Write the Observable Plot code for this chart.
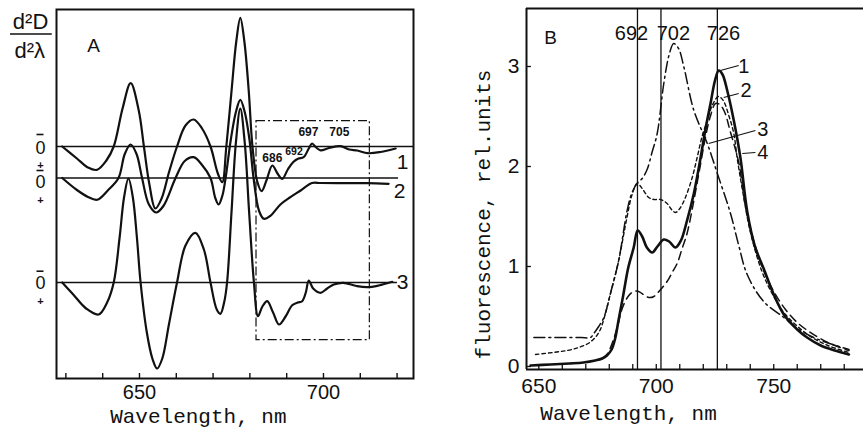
<!DOCTYPE html>
<html><head><meta charset="utf-8">
<script src="https://cdn.jsdelivr.net/npm/d3@7"></script>
<script src="https://cdn.jsdelivr.net/npm/@observablehq/plot@0.6"></script>
<style>
html,body{margin:0;padding:0;background:#fff;}
#wrap{display:flex;width:863px;height:428px;overflow:hidden;background:#fff;}
#wrap svg{flex:none;}
</style></head><body><div id="wrap"></div>
<script>
// ---------- Panel A: second-derivative spectra (values relative to each curve's own zero line; + is downward) ----------
const aNm1 = [629.0,633,636,638.5,641,643,645.4,647.6,649.8,651.2,652.7,654.3,656,658,660.2,662.5,664.7,667,669.3,671.3,672.5,673.6,675,676.3,677.4,678.5,679.7,680.7,682,683.2,684.5,686.1,687.5,688.8,690.3,691.8,693.2,694.6,696.0,696.9,698,699.2,701.5,704.6,707,709.2,712.0,715.5,719.6];
const aVal1 = [0,1.2,2.1,2.33,1.4,0,-3.8,-6.33,-3.6,0,3.8,6.2,5.2,2.6,0,-2.1,-2.7,-1.8,0,2.7,3.57,0,-5.5,-10.5,-12.87,-10.5,-5.5,0,3.5,4.47,3.4,1.9,2.7,3.23,2.3,1.55,1.2,1.07,0.2,-0.3,0.1,0.38,0.15,-0.03,0.3,0.4,0.67,0.55,0.2];
const aNm2 = [629.0,633,636,638.5,641.5,644.3,646,647.6,649.2,650.7,652.5,654.5,656.5,659.8,662.3,664.7,667,669.3,670.6,671.5,672.5,673.4,674.8,676.2,677.4,678.6,679.9,681,682.5,683.8,685.5,688.3,691,693.8,696.9,699.2,704.6,711.9,717.7];
const aVal2 = [0,1.2,1.9,2.18,1.2,0,-2.4,-3.35,-2.4,0,2.6,3.45,2.8,0,-1.7,-2.08,-1.3,0,2.0,2.65,1.8,0,-3.8,-6.6,-7.82,-6.6,-3.8,0,3.3,4.08,3.8,2.65,1.92,1.25,0.5,0.5,0.52,0.52,0.58];
const aNm3 = [629.0,632,635.5,638.9,641.2,643.0,644.6,645.8,647.0,648.2,649.3,650.3,652,653.5,654.8,656.2,658,660.2,662.5,665.2,667.5,669.3,671,672,673,673.8,675,676.2,677.4,678.6,679.8,681.1,682.2,683.4,684.7,686.3,687.9,689.7,691.5,693,694.2,695.2,696.0,697.2,699.2,701,702.8,705.4,709,711.9,715,718.7];
const aVal3 = [0,1.2,2.6,3.2,2.0,0,-4.5,-8.5,-10.4,-8.5,-4.5,0,5.0,7.6,8.6,7.6,4.2,0,-3.7,-4.97,-3.3,0,2.7,3.13,2.0,0,-7.0,-14.0,-17.4,-14.0,-7.0,0,3.37,2.4,1.87,3.0,4.2,3.4,2.27,2.0,1.87,1.0,-0.2,0.6,1.03,0.6,0.2,0.03,0.35,0.47,0.3,-0.07];
const aCurveNames = ["1","2","3"];
const aTickLabels = [650,700];
const aPeakLabels = ["686","692","697","705"];

// ---------- Panel B: fluorescence spectra ----------
const bNm1 = [646.5,655,663,669,674,677,679,681,682.5,684,686,688,690.4,692.1,694,696,698.3,700.5,703.2,705.5,708.2,710.5,713.1,716,718.8,721,723.1,725,726.6,728.2,730.2,733,735.8,738.7,742,745.7,750,754.3,760,764.2,770,776,782];
const bVal1 = [0.01,0.02,0.03,0.04,0.06,0.08,0.11,0.17,0.28,0.47,0.72,0.98,1.19,1.36,1.3,1.19,1.14,1.2,1.27,1.25,1.19,1.26,1.46,1.73,2.08,2.38,2.63,2.86,2.96,2.92,2.76,2.46,2.09,1.55,1.2,0.98,0.72,0.52,0.37,0.29,0.21,0.16,0.12];
const bNm2 = [648.6,656,662,667,671,674,676,678,680.5,684,687.6,689.7,691.9,694,696.8,699,701.8,704.6,706.5,708.2,710,712.4,715.3,717.4,719.5,721.7,724,726.5,728.5,731,733,734.4,736.5,740,745,750,755,765,773,782];
const bVal2 = [0.12,0.14,0.16,0.19,0.23,0.29,0.36,0.5,0.73,1.06,1.5,1.72,1.83,1.78,1.69,1.67,1.67,1.63,1.57,1.54,1.58,1.69,1.89,2.09,2.3,2.46,2.62,2.7,2.66,2.5,2.33,2.09,1.79,1.35,0.95,0.7,0.52,0.31,0.21,0.14];
const bNm3 = [647.9,660,668,672,673.4,675.5,677.7,680.5,684,687.6,689.7,692.1,694,696.1,698.3,700.4,703.2,705.5,707.4,709.5,711.7,716,721.7,726,731.6,735,738.7,745.7,754.3,760,767,775,782];
const bVal3 = [0.29,0.29,0.29,0.29,0.33,0.4,0.49,0.73,1.06,1.56,1.74,1.84,1.88,1.97,2.15,2.33,2.83,3.12,3.23,3.18,3.0,2.56,2.23,1.93,1.53,1.22,0.92,0.65,0.49,0.38,0.29,0.22,0.17];
const bNm4 = [677,679,681.5,683.5,685.5,688,690.4,692.5,694.5,696.8,699,701.5,704.6,707,708.9,711,713.1,716,718.5,721,723,725.2,727,729,731.5,735,738,741,745,750,755,760,765,773,782];
const bVal4 = [0.08,0.12,0.25,0.4,0.58,0.7,0.75,0.75,0.72,0.69,0.7,0.76,0.85,0.95,1.03,1.18,1.33,1.66,1.98,2.3,2.5,2.63,2.62,2.55,2.35,2.05,1.6,1.3,1.0,0.75,0.57,0.44,0.35,0.24,0.16];
const bLines = [692,702,726];
const bTickLabels = [650,700,750];
const bYTickLabels = [0,1,2,3];
const bCurveNames = ["1","2","3","4"];

const SANS = "Liberation Sans, Arial, sans-serif";
const MONO = "Liberation Mono, Courier New, monospace";
const INK = "#111";

// ---------- build panel A ----------
const aOff = [0, 3.15, 13.6];
const aX0 = 627.45, aX1 = 724.46, aYb = 23.2, aYt = -13.7;
const toPts = (xs, ys, off=0) => xs.map((x,i)=>({x, y: ys[i] + off}));
const aSeries = [toPts(aNm1,aVal1,aOff[0]), toPts(aNm2,aVal2,aOff[1]), toPts(aNm3,aVal3,aOff[2])];
const aBaseEnd = [aX1, 720.4, 720.1];

const marksA = [
  Plot.frame({stroke: INK, strokeWidth: 2}),
  Plot.ruleY(aOff, {y: d=>d, x1: aX0, x2: (d,i)=>aBaseEnd[i], stroke: INK, strokeWidth: 1.4}),
  Plot.rect([0], {x1: 681.8, x2: 712.6, y1: -2.53, y2: 19.37, fill: "none", stroke: INK, strokeWidth: 1.2, strokeDasharray: "9,3,2,3"}),
  ...aSeries.map(s => Plot.line(s, {x: "x", y: "y", curve: "catmull-rom", stroke: INK, strokeWidth: 2.2})),
  Plot.ruleX(d3.range(630, 721, 10), {x: d=>d, y1: aYb, y2: aYb - 0.5, stroke: INK, strokeWidth: 1.4}),
  Plot.text(aTickLabels, {x: d=>d, y: 24.6, text: d=>String(d), fontSize: 20, fontFamily: SANS, fill: INK}),
  Plot.text(["Wavelength, nm"], {x: 666.0, y: 26.95, text: d=>d, fontSize: 21, fontFamily: MONO, fill: INK}),
  Plot.text(["A"], {x: 637.5, y: -10.1, text: d=>d, fontSize: 19, fontFamily: SANS, fill: INK}),
  Plot.text(["d²D"], {x: 620.4, y: -12.5, text: d=>d, fontSize: 22, fontFamily: SANS, fill: INK}),
  Plot.text(["d²λ"], {x: 620.2, y: -9.6, text: d=>d, fontSize: 22, fontFamily: SANS, fill: INK}),
  Plot.ruleY([-11.25], {x1: 614.95, x2: 626.3, stroke: INK, strokeWidth: 1.5}),
  // sign marks beside each zero line: overbar (minus) above the 0, plus below
  Plot.ruleY([-1.2, 2.4, 12.47], {y: d=>d, x1: 622.15, x2: 624.05, stroke: INK, strokeWidth: 1.6}),
  Plot.text([0.2, 3.55, 13.65], {x: 623.1, y: d=>d, text: ()=>"0", fontSize: 18, fontFamily: SANS, fill: INK}),
  Plot.text([1.85, 5.35, 15.5], {x: 623.1, y: d=>d, text: ()=>"+", fontSize: 11, fontWeight: "bold", fontFamily: SANS, fill: INK}),
  // curve numbers
  Plot.text(aCurveNames, {x: [721.5, 720.65, 721.5], y: [1.57, 4.5, 13.6], text: d=>d, fontSize: 21, fontFamily: SANS, fill: INK}),
  // peak wavelengths inside the box
  Plot.text(aPeakLabels, {x: [686.1, 692.0, 695.9, 704.3], y: [1.2, 0.55, -1.4, -1.4], text: d=>d, fontSize: [12, 10.5, 12, 12], fontWeight: "bold", fontFamily: SANS, fill: INK})
];

const plotA = Plot.plot({
  width: 432, height: 428,
  marginTop: 9, marginLeft: 56, marginRight: 19, marginBottom: 50,
  x: {domain: [aX0, aX1], axis: null},
  y: {domain: [aYb, aYt], axis: null},
  style: {background: "white", fontFamily: SANS, overflow: "visible"},
  marks: marksA
});

// ---------- build panel B ----------
const bX0 = 644.77, bX1 = 788.2, bY0 = -0.03, bY1 = 3.58;
const bSeries = [toPts(bNm1,bVal1), toPts(bNm2,bVal2), toPts(bNm3,bVal3), toPts(bNm4,bVal4)];
const bStyles = [
  {strokeWidth: 2.6, strokeDasharray: null},
  {strokeWidth: 1.4, strokeDasharray: "3.5,3"},
  {strokeWidth: 1.5, strokeDasharray: "11,4,2,4"},
  {strokeWidth: 1.5, strokeDasharray: "8,5"}
];
const leaders = [
  {x1: 727.3, y1: 2.96, x2: 735.1, y2: 3.01},
  {x1: 728.7, y1: 2.69, x2: 735.1, y2: 2.73},
  {x1: 722.3, y1: 2.23, x2: 742.2, y2: 2.36},
  {x1: 736.6, y1: 2.13, x2: 742.2, y2: 2.14}
];

const marksB = [
  Plot.ruleY([bY1, bY0], {y: d=>d, x1: bX0, x2: bX1, stroke: INK, strokeWidth: 2}),
  Plot.ruleX([bX0], {x: d=>d, y1: bY0, y2: bY1, stroke: INK, strokeWidth: 2}),
  Plot.ruleX(bLines, {x: d=>d, y1: bY0, y2: bY1, stroke: INK, strokeWidth: 1.3}),
  ...bSeries.map((s,i) => Plot.line(s, {x: "x", y: "y", curve: "catmull-rom", stroke: INK, strokeWidth: bStyles[i].strokeWidth, strokeDasharray: bStyles[i].strokeDasharray})),
  Plot.link(leaders, {x1: "x1", y1: "y1", x2: "x2", y2: "y2", stroke: INK, strokeWidth: 1.2}),
  Plot.text(bCurveNames, {x: [737.3, 738.2, 745.3, 745.3], y: [3.0, 2.76, 2.37, 2.14], text: d=>d, fontSize: 20, fontFamily: SANS, fill: INK}),
  Plot.ruleX(d3.range(650, 785, 10), {x: d=>d, y1: bY0, y2: bY0 + 0.05, stroke: INK, strokeWidth: 1.3}),
  Plot.ruleY(bYTickLabels, {y: d=>d, x1: bX0, x2: bX0 + 2.1, stroke: INK, strokeWidth: 1.3}),
  Plot.text(bTickLabels, {x: d=>d, y: -0.195, text: d=>String(d), fontSize: 21, fontFamily: SANS, fill: INK}),
  Plot.text(bYTickLabels, {x: 641.8, y: d=>d, text: d=>String(d), textAnchor: "end", fontSize: 21, fontFamily: SANS, fill: INK}),
  Plot.text(bLines, {x: [689.45, 707.3, 728.6], y: 3.33, text: d=>String(d), fontSize: 20, fontFamily: SANS, fill: INK}),
  Plot.text(["B"], {x: 655.0, y: 3.29, text: d=>d, fontSize: 19, fontFamily: SANS, fill: INK}),
  Plot.text(["Wavelength, nm"], {x: 688.2, y: -0.47, text: d=>d, fontSize: 21, fontFamily: MONO, fill: INK}),
  Plot.text(["fluorescence, rel.units"], {x: 626.5, y: 1.52, text: d=>d, rotate: -90, fontSize: 21, fontFamily: MONO, fill: INK})
];

const plotB = Plot.plot({
  width: 431, height: 428,
  marginTop: 8, marginLeft: 94, marginRight: 0, marginBottom: 59,
  x: {domain: [bX0, bX1], axis: null},
  y: {domain: [bY0, bY1], axis: null},
  style: {background: "white", fontFamily: SANS, overflow: "visible"},
  marks: marksB
});

const wrap = document.getElementById("wrap");
wrap.appendChild(plotA);
wrap.appendChild(plotB);
</script></body></html>
